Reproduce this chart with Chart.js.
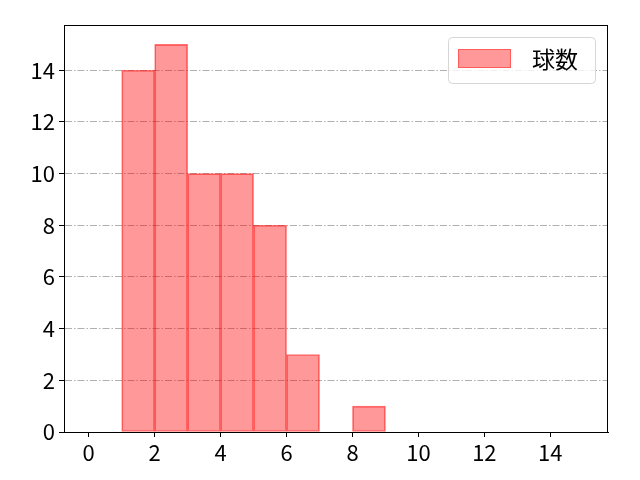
<!DOCTYPE html>
<html>
<head>
<meta charset="utf-8">
<script src="https://cdn.jsdelivr.net/npm/chart.js@4/dist/chart.umd.min.js"></script>
<style>
html,body{margin:0;padding:0;background:#fff;}
#wrap{width:640px;height:480px;}
</style>
</head>
<body>
<div id="wrap"><canvas id="c" width="640" height="480"></canvas></div>
<script>
const seriesLabel = '球数';
const binStarts = [1, 2, 3, 4, 5, 6, 7, 8];
const counts = [14, 15, 10, 10, 8, 3, 0, 1];
const xTicks = [0, 2, 4, 6, 8, 10, 12, 14];
const yTicks = [0, 2, 4, 6, 8, 10, 12, 14];

const FONT = '"Noto Sans CJK JP", "DejaVu Sans", sans-serif';
const fill = 'rgba(255,0,0,0.4)';
const edge = 'rgba(255,0,0,0.55)';

const data = binStarts.map((s, i) => ({x: s + 0.5, y: counts[i]}));

const framePlugin = {
  id: 'frame',
  afterDraw(chart) {
    const {ctx, chartArea: a} = chart;
    ctx.save();
    ctx.strokeStyle = '#000';
    ctx.lineWidth = 1;
    ctx.setLineDash([]);
    ctx.strokeRect(Math.round(a.left) + 0.5, Math.round(a.top) + 0.5,
      Math.round(a.right - a.left) - 1, Math.round(a.bottom - a.top));
    // legend
    const bx = 448, by = 37, bw = 147, bh = 46;
    ctx.fillStyle = 'rgba(255,255,255,0.8)';
    ctx.strokeStyle = '#d6d6d6';
    ctx.lineWidth = 1;
    ctx.beginPath();
    ctx.roundRect(bx + 0.5, by + 0.5, bw, bh, 4);
    ctx.fill();
    ctx.stroke();
    ctx.fillStyle = fill;
    ctx.fillRect(458, 49, 53, 19);
    ctx.strokeStyle = 'rgba(255,0,0,0.4)';
    ctx.strokeRect(458.5, 49.5, 52, 18);
    ctx.fillStyle = '#000';
    ctx.font = '23px ' + FONT;
    ctx.textBaseline = 'middle';
    ctx.textAlign = 'left';
    ctx.fillText(chart.data.datasets[0].label, 532, 59);
    ctx.restore();
  }
};

new Chart(document.getElementById('c'), {
  type: 'bar',
  data: {
    datasets: [{
      label: seriesLabel,
      data: data,
      backgroundColor: fill,
      borderColor: edge,
      borderWidth: 1,
      borderSkipped: false,
      barPercentage: 1,
      categoryPercentage: 1
    }]
  },
  options: {
    responsive: false,
    animation: false,
    devicePixelRatio: 1,
    layout: {padding: {top: 25, right: 32, left: 0, bottom: 0}},
    plugins: {legend: {display: false}, tooltip: {enabled: false}},
    scales: {
      x: {
        type: 'linear',
        min: -0.75,
        max: 15.75,
        offset: false,
        afterBuildTicks(s) { s.ticks = xTicks.map(v => ({value: v})); },
        afterFit(s) { s.height = 48; },
        grid: {display: true, drawOnChartArea: false, offset: false, tickLength: 5, tickColor: '#000', tickWidth: 1},
        border: {display: true, color: '#000', width: 1},
        ticks: {color: '#000', font: {family: FONT, size: 22}, padding: 2, maxRotation: 0, autoSkip: false}
      },
      y: {
        min: 0,
        max: 15.75,
        z: 1,
        afterBuildTicks(s) { s.ticks = yTicks.map(v => ({value: v})); },
        afterFit(s) { s.width = 64; },
        grid: {
          display: true,
          color: (c) => c.tick && c.tick.value === 0 ? 'rgba(0,0,0,0)' : '#b0b0b0',
          lineWidth: 1,
          tickLength: 5,
          tickColor: '#000',
          tickWidth: 1,
          tickBorderDash: []
        },
        border: {display: true, color: '#000', width: 1, dash: [7, 2, 1.5, 2]},
        ticks: {color: '#000', font: {family: FONT, size: 22}, padding: 4, autoSkip: false}
      }
    }
  },
  plugins: [framePlugin]
});
</script>
</body>
</html>
